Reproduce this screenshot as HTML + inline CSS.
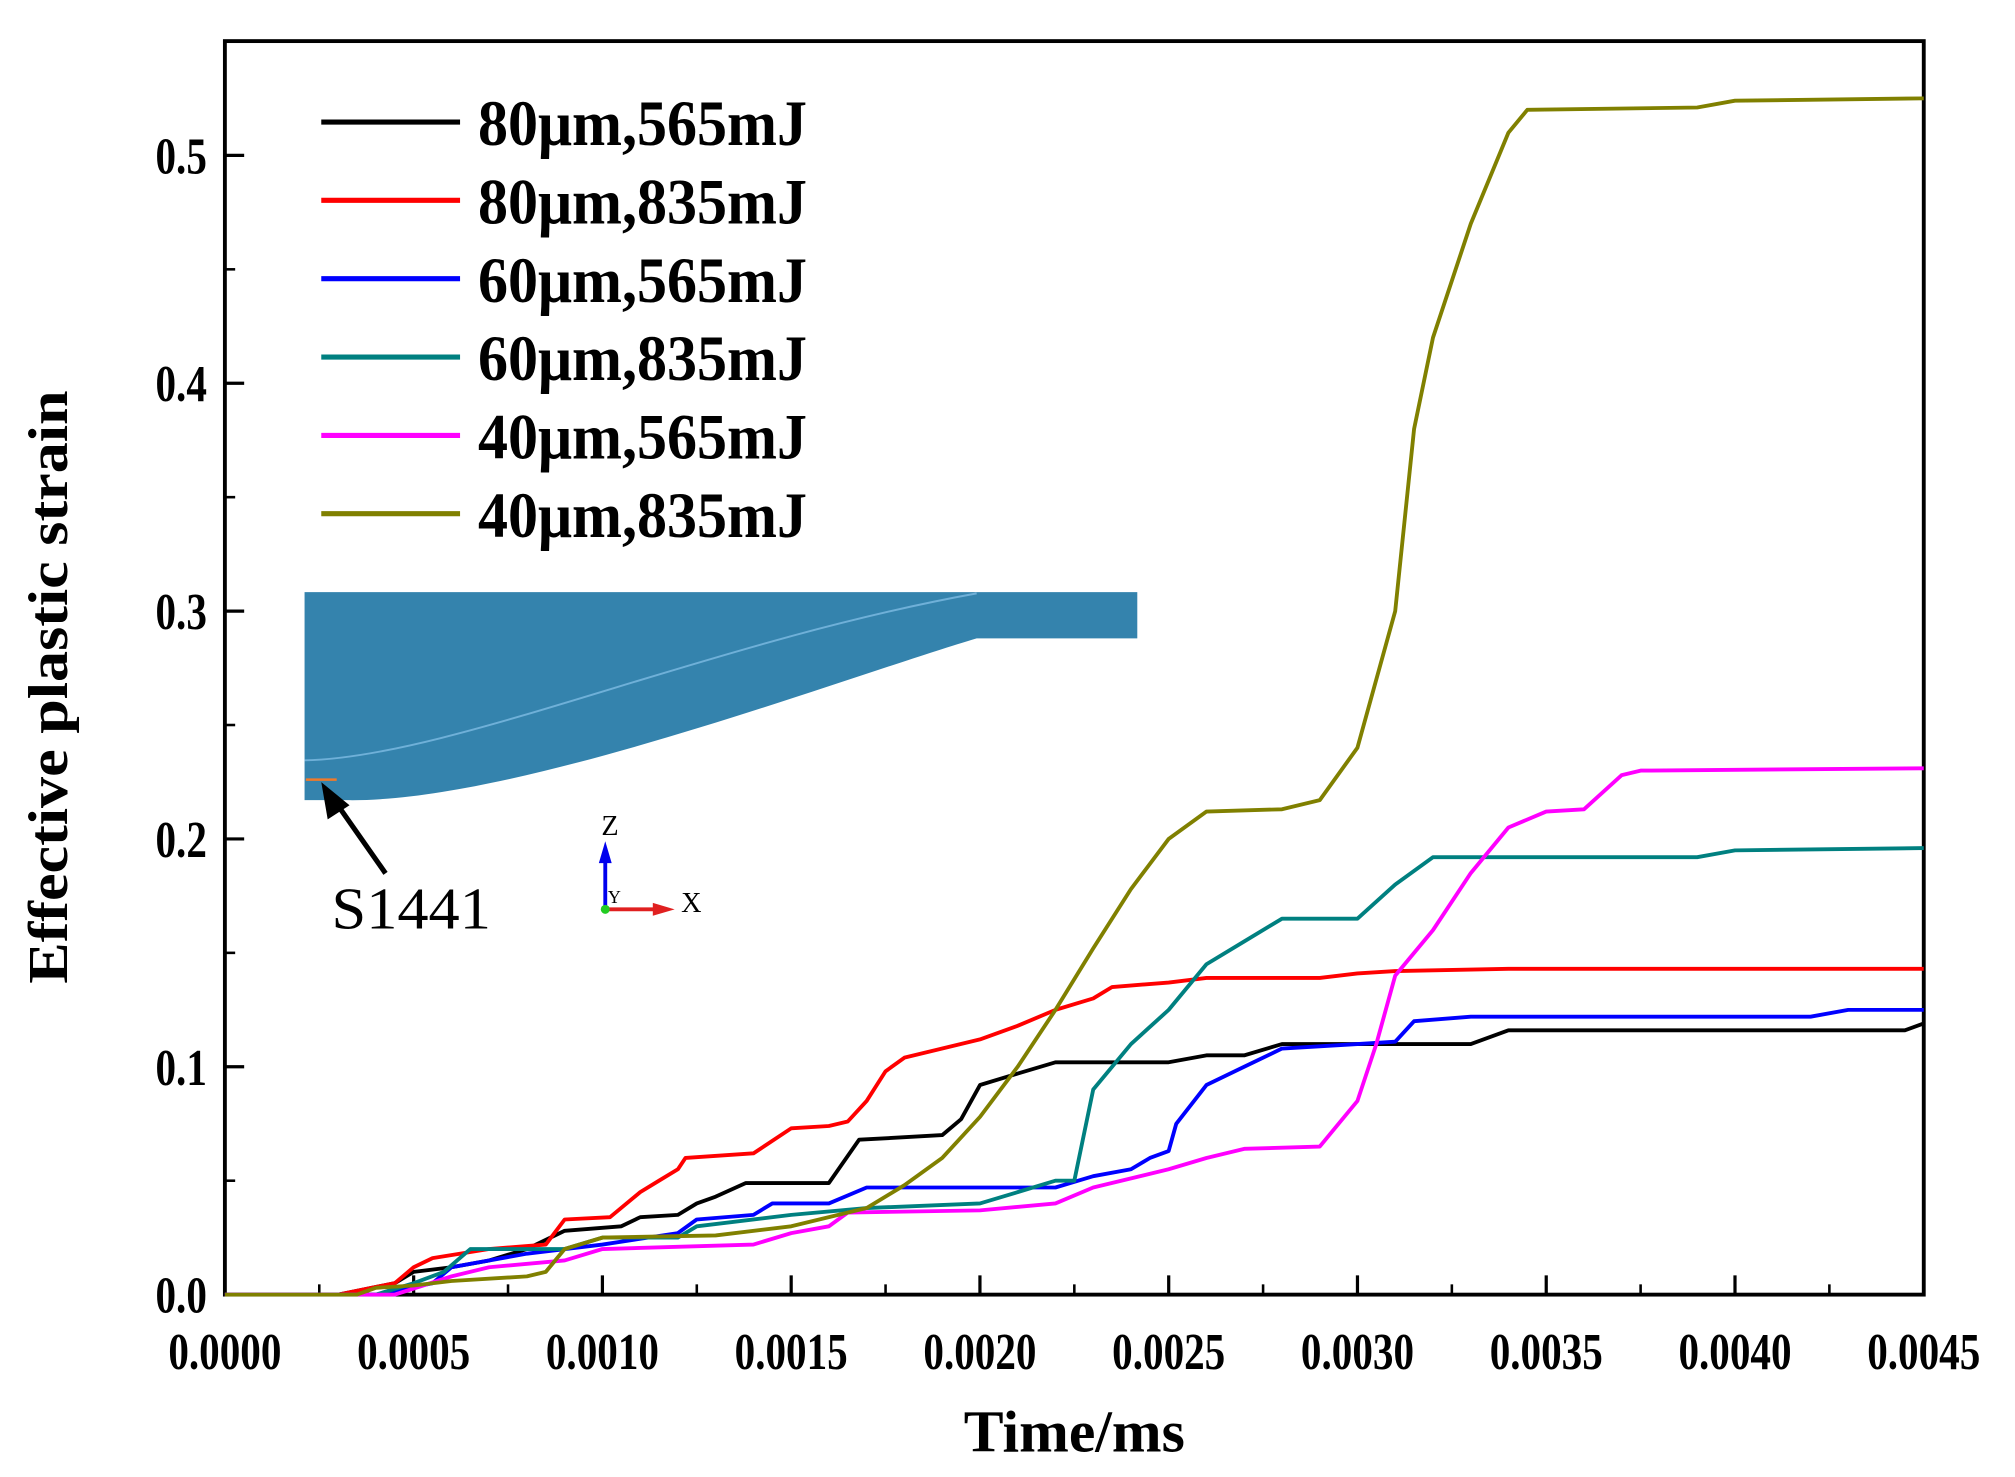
<!DOCTYPE html>
<html><head><meta charset="utf-8"><style>
html,body{margin:0;padding:0;background:#fff}
svg{display:block}
text{font-family:"Liberation Serif",serif}
</style></head><body>
<svg id="chart" width="2015" height="1477" viewBox="0 0 1568 1150" preserveAspectRatio="none" xmlns="http://www.w3.org/2000/svg">
<g id="inset">
<path d="M237,461 L885,461 L885,497 L760,497 C650,530 400,625 270,623 L237,623 Z" fill="#3483ad"/>
<path d="M237,592 C350,590 550,500 760,462" fill="none" stroke="#6fb0d8" stroke-width="1.5"/>
<line x1="238" y1="607" x2="262" y2="607" stroke="#f07a2a" stroke-width="2"/>
<line x1="300" y1="680" x2="258" y2="620" stroke="#000" stroke-width="4"/>
<polygon points="250,609 255,638 272,627" fill="#000"/>
<text x="258" y="723" font-size="46" textLength="124" lengthAdjust="spacingAndGlyphs">S1441</text>
<line x1="471" y1="708" x2="471" y2="665" stroke="#0000ee" stroke-width="3"/>
<polygon points="471,655 466,672 476,672" fill="#0000ee"/>
<line x1="471" y1="708" x2="515" y2="708" stroke="#e02020" stroke-width="3"/>
<polygon points="525,708 508,703 508,713" fill="#e02020"/>
<circle cx="471" cy="708" r="3.5" fill="#22cc22"/>
<text x="468" y="650" font-size="22">Z</text>
<text x="530" y="710" font-size="22">X</text>
<text x="473" y="703" font-size="14">Y</text>
</g>
<g id="axes"></g>
<g id="series"></g>
<g id="legend"></g>
<text x="836" y="1130" font-size="46" font-weight="bold" text-anchor="middle" textLength="172" lengthAdjust="spacingAndGlyphs">Time/ms</text>
<text transform="translate(52,535) rotate(-90)" font-size="44" font-weight="bold" text-anchor="middle" textLength="462" lengthAdjust="spacingAndGlyphs">Effective plastic strain</text>
</svg>
<script>
const xTicks=[0,0.0005,0.001,0.0015,0.002,0.0025,0.003,0.0035,0.004,0.0045];
const xTickLabels=["0.0000","0.0005","0.0010","0.0015","0.0020","0.0025","0.0030","0.0035","0.0040","0.0045"];
const yTicks=[0,0.1,0.2,0.3,0.4,0.5];
const yTickLabels=["0.0","0.1","0.2","0.3","0.4","0.5"];
const seriesNames=["80μm,565mJ","80μm,835mJ","60μm,565mJ","60μm,835mJ","40μm,565mJ","40μm,835mJ"];
const seriesColors=["#000000","#ff0000","#0000ff","#008080","#ff00ff","#808000"];
const s80_565=[[0,0],[0.0003,0],[0.00045,0.005],[0.0005,0.01],[0.0006,0.012],[0.0007,0.015],[0.0008,0.02],[0.0009,0.028],[0.00105,0.03],[0.0011,0.034],[0.0012,0.035],[0.00125,0.04],[0.0013,0.043],[0.00138,0.049],[0.0016,0.049],[0.00168,0.068],[0.0019,0.07],[0.00195,0.077],[0.002,0.092],[0.0021,0.097],[0.0022,0.102],[0.0025,0.102],[0.0026,0.105],[0.0027,0.105],[0.0028,0.11],[0.0033,0.11],[0.0034,0.116],[0.00445,0.116],[0.0045,0.119]];
const s80_835=[[0,0],[0.0003,0],[0.00045,0.005],[0.0005,0.012],[0.00055,0.016],[0.0007,0.02],[0.00085,0.022],[0.0009,0.033],[0.00102,0.034],[0.0011,0.045],[0.00115,0.05],[0.0012,0.055],[0.00122,0.06],[0.0014,0.062],[0.0015,0.073],[0.0016,0.074],[0.00165,0.076],[0.0017,0.085],[0.00175,0.098],[0.0018,0.104],[0.0019,0.108],[0.002,0.112],[0.0021,0.118],[0.0022,0.125],[0.0023,0.13],[0.00235,0.135],[0.0025,0.137],[0.0026,0.139],[0.0029,0.139],[0.003,0.141],[0.0031,0.142],[0.0034,0.143],[0.0045,0.143]];
const s60_565=[[0,0],[0.0004,0],[0.00055,0.005],[0.0006,0.012],[0.0008,0.018],[0.001,0.022],[0.0012,0.027],[0.00125,0.033],[0.0014,0.035],[0.00145,0.04],[0.0016,0.04],[0.0017,0.047],[0.0022,0.047],[0.0023,0.052],[0.0024,0.055],[0.00245,0.06],[0.0025,0.063],[0.00252,0.075],[0.0026,0.092],[0.0027,0.1],[0.0028,0.108],[0.003,0.11],[0.0031,0.111],[0.00315,0.12],[0.0033,0.122],[0.0042,0.122],[0.0043,0.125],[0.0045,0.125]];
const s60_835=[[0,0],[0.0004,0],[0.0005,0.005],[0.00058,0.01],[0.00065,0.02],[0.0009,0.02],[0.001,0.025],[0.0012,0.025],[0.00125,0.03],[0.0015,0.035],[0.0017,0.038],[0.002,0.04],[0.0021,0.045],[0.0022,0.05],[0.00225,0.05],[0.0023,0.09],[0.0024,0.11],[0.0025,0.125],[0.0026,0.145],[0.0027,0.155],[0.0028,0.165],[0.003,0.165],[0.0031,0.18],[0.0032,0.192],[0.0039,0.192],[0.004,0.195],[0.0045,0.196]];
const s40_565=[[0,0],[0.00045,0],[0.0006,0.008],[0.0007,0.012],[0.0009,0.015],[0.001,0.02],[0.0014,0.022],[0.0015,0.027],[0.0016,0.03],[0.00165,0.036],[0.002,0.037],[0.0022,0.04],[0.0023,0.047],[0.0025,0.055],[0.0026,0.06],[0.0027,0.064],[0.0029,0.065],[0.003,0.085],[0.00305,0.11],[0.0031,0.14],[0.0032,0.16],[0.0033,0.185],[0.0034,0.205],[0.0035,0.212],[0.0036,0.213],[0.0037,0.228],[0.00375,0.23],[0.0045,0.231]];
const s40_835=[[0,0],[0.00035,0],[0.0004,0.003],[0.0005,0.004],[0.0006,0.006],[0.0008,0.008],[0.00085,0.01],[0.0009,0.02],[0.001,0.025],[0.0013,0.026],[0.0015,0.03],[0.0017,0.038],[0.0018,0.048],[0.0019,0.06],[0.002,0.078],[0.0021,0.1],[0.0022,0.125],[0.0023,0.152],[0.0024,0.178],[0.0025,0.2],[0.0026,0.212],[0.0028,0.213],[0.0029,0.217],[0.003,0.24],[0.0031,0.3],[0.00315,0.38],[0.0032,0.42],[0.0033,0.47],[0.0034,0.51],[0.00345,0.52],[0.0039,0.521],[0.004,0.524],[0.0045,0.525]];
const allSeries=[s80_565,s80_835,s60_565,s60_835,s40_565,s40_835];

const NS="http://www.w3.org/2000/svg";
const L=175,R=1497,T=32,B=1008;
const xMax=0.0045, yPer=177.4;
function sx(v){return L+(v/xMax)*(R-L);}
function sy(v){return B-v*10*yPer;}
function mk(tag,parent){const e=document.createElementNS(NS,tag);parent.appendChild(e);return e;}

const axes=document.getElementById('axes');
const frame=mk('rect',axes);


frame.setAttribute('x',L);frame.setAttribute('y',T);frame.setAttribute('width',R-L);frame.setAttribute('height',B-T);
frame.setAttribute('fill','none');frame.setAttribute('stroke','#000');frame.setAttribute('stroke-width','3');
xTicks.forEach((v,i)=>{
  const t=mk('line',axes);
  
  
  t.setAttribute('x1',sx(v));t.setAttribute('x2',sx(v));t.setAttribute('y1',B);t.setAttribute('y2',B-15);
  t.setAttribute('stroke','#000');t.setAttribute('stroke-width','2.5');
  if(i<xTicks.length-1){
    const m=mk('line',axes);
    
    
    const mv=v+0.00025;
    m.setAttribute('x1',sx(mv));m.setAttribute('x2',sx(mv));m.setAttribute('y1',B);m.setAttribute('y2',B-8);
    m.setAttribute('stroke','#000');m.setAttribute('stroke-width','2');
  }
  const lb=mk('text',axes);
  
  
  lb.setAttribute('x',sx(v));lb.setAttribute('y',1066);lb.setAttribute('font-size','40');
  lb.setAttribute('font-weight','bold');lb.setAttribute('text-anchor','middle');
  lb.setAttribute('textLength','88');lb.setAttribute('lengthAdjust','spacingAndGlyphs');
  lb.textContent=xTickLabels[i];
});
yTicks.forEach((v,i)=>{
  const t=mk('line',axes);
  
  
  t.setAttribute('x1',L);t.setAttribute('x2',L+15);t.setAttribute('y1',sy(v));t.setAttribute('y2',sy(v));
  t.setAttribute('stroke','#000');t.setAttribute('stroke-width','2.5');
  const m=mk('line',axes);
  
  
  m.setAttribute('x1',L);m.setAttribute('x2',L+8);m.setAttribute('y1',sy(v+0.05));m.setAttribute('y2',sy(v+0.05));
  m.setAttribute('stroke','#000');m.setAttribute('stroke-width','2');
  const lb=mk('text',axes);
  
  
  lb.setAttribute('x',L-34);lb.setAttribute('y',sy(v)+14);lb.setAttribute('font-size','40');
  lb.setAttribute('font-weight','bold');lb.setAttribute('text-anchor','middle');
  lb.setAttribute('textLength','40');lb.setAttribute('lengthAdjust','spacingAndGlyphs');
  lb.textContent=yTickLabels[i];
});

const sg=document.getElementById('series');
allSeries.forEach((s,i)=>{
  const p=mk('polyline',sg);
  
  
  p.setAttribute('points',s.map(d=>sx(d[0]).toFixed(1)+','+sy(d[1]).toFixed(1)).join(' '));
  p.setAttribute('fill','none');p.setAttribute('stroke',seriesColors[i]);p.setAttribute('stroke-width','3');
  p.setAttribute('stroke-linejoin','round');
});

const lg=document.getElementById('legend');
seriesNames.forEach((n,i)=>{
  const y=95+i*61;
  const l=mk('line',lg);
  
  
  l.setAttribute('x1',250);l.setAttribute('x2',358);l.setAttribute('y1',y);l.setAttribute('y2',y);
  l.setAttribute('stroke',seriesColors[i]);l.setAttribute('stroke-width','4');
  const t=mk('text',lg);
  
  
  t.setAttribute('x',372);t.setAttribute('y',y+18);t.setAttribute('font-size','50');t.setAttribute('font-weight','bold');
  t.setAttribute('textLength','256');t.setAttribute('lengthAdjust','spacingAndGlyphs');
  t.textContent=n;
});
</script>
</body></html>
